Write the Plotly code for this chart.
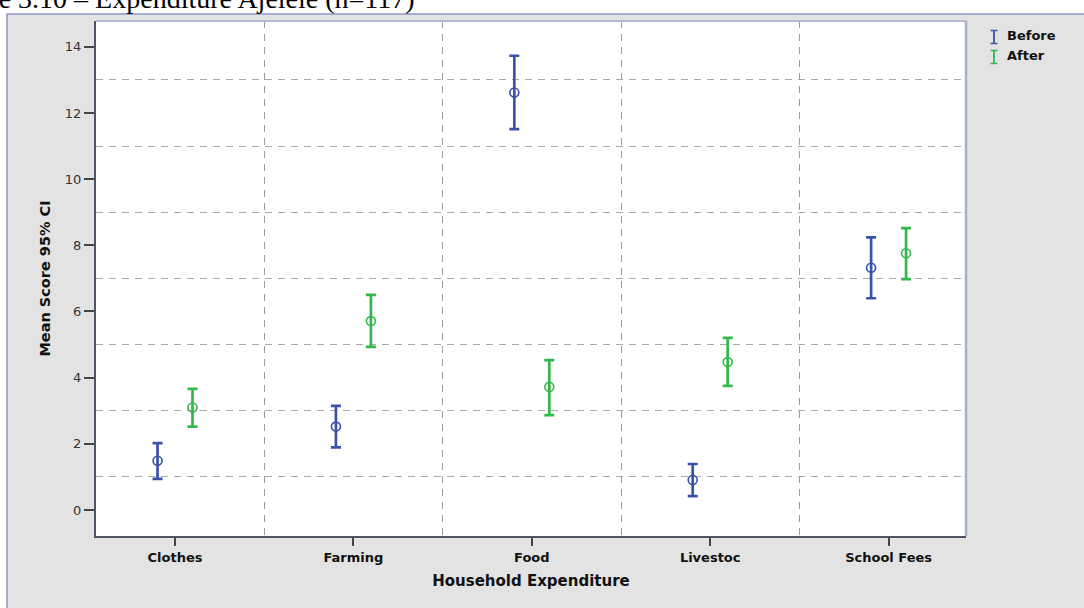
import plotly.graph_objects as go

# Household expenditure categories and mean scores with 95% CI bounds
categories = ["Clothes", "Farming", "Food", "Livestoc", "School Fees"]
before_mean = [1.49, 2.52, 12.62, 0.91, 7.32]
before_upper = [2.02, 3.15, 13.73, 1.39, 8.24]
before_lower = [0.94, 1.89, 11.51, 0.42, 6.40]
after_mean = [3.10, 5.71, 3.72, 4.47, 7.76]
after_upper = [3.66, 6.50, 4.53, 5.20, 8.52]
after_lower = [2.52, 4.93, 2.87, 3.75, 6.98]
y_tick_values = [0, 2, 4, 6, 8, 10, 12, 14]

BLUE = "#3a52a8"
GREEN = "#34b84c"
SANS = "DejaVu Sans"
W, H = 1084, 608
ML, MR, MT, MB = 96, 118, 21, 72
PW, PH = W - ML - MR, H - MT - MB


def px_x(px):
    return (px - ML) / PW


def px_y(py):
    return (H - MB - py) / PH


idx = list(range(len(categories)))
offset = 0.098


def series(name, means, upper, lower, color, shift):
    return go.Scatter(
        x=[i + shift for i in idx],
        y=means,
        mode="markers",
        name=name,
        marker=dict(symbol="circle-open", size=9, color=color, line=dict(width=1.6, color=color)),
        error_y=dict(
            type="data",
            symmetric=False,
            array=[u - m for u, m in zip(upper, means)],
            arrayminus=[m - l for m, l in zip(means, lower)],
            color=color,
            thickness=2.7,
            width=5,
        ),
        showlegend=False,
        hoverinfo="skip",
    )


fig = go.Figure()
fig.add_trace(series("Before", before_mean, before_upper, before_lower, BLUE, -offset))
fig.add_trace(series("After", after_mean, after_upper, after_lower, GREEN, offset))

shapes = [
    # grey chart panel
    dict(type="rect", xref="paper", yref="paper", layer="below",
         x0=px_x(7), x1=px_x(W + 20), y0=px_y(H + 20), y1=px_y(14),
         fillcolor="#e3e3e3", line=dict(color="#8f97cb", width=1.5)),
    # white plotting area
    dict(type="rect", xref="paper", yref="paper", layer="below",
         x0=0, x1=1, y0=0, y1=1, fillcolor="#ffffff", line=dict(width=0)),
    # top and right frame edges
    dict(type="line", xref="paper", yref="paper", x0=0, x1=1, y0=1, y1=1,
         line=dict(color="#b4bad6", width=2)),
    dict(type="line", xref="paper", yref="paper", x0=1, x1=1, y0=0, y1=1,
         line=dict(color="#a6aed4", width=2.5)),
]

# legend icons drawn as small error-bar glyphs
legend_items = [("Before", BLUE, 36), ("After", GREEN, 56)]
annotations = []
for label, color, cy in legend_items:
    xc = px_x(994)
    half = 6.5 / PH
    cap = 3.5 / PW
    y_c = px_y(cy + 1)
    shapes.append(dict(type="line", xref="paper", yref="paper", x0=xc, x1=xc,
                       y0=y_c - half, y1=y_c + half, line=dict(color=color, width=1.8)))
    for yy in (y_c - half, y_c + half):
        shapes.append(dict(type="line", xref="paper", yref="paper", x0=xc - cap, x1=xc + cap,
                           y0=yy, y1=yy, line=dict(color=color, width=1.5)))
    annotations.append(dict(xref="paper", yref="paper", x=px_x(1005), y=px_y(cy),
                            xanchor="left", yanchor="middle", showarrow=False,
                            text="<b>" + label + "</b>",
                            font=dict(family=SANS, size=13, color="#111")))

# figure caption above the chart panel
annotations.append(dict(xref="paper", yref="paper", x=px_x(-64), y=px_y(16),
                        xanchor="left", yanchor="bottom", showarrow=False,
                        text="Figure 3.10 \u2013 Expenditure Ajeleie (n=117)",
                        font=dict(family="Liberation Serif", size=28, color="#000")))

fig.update_layout(
    width=W, height=H,
    margin=dict(l=ML, r=MR, t=MT, b=MB, pad=0),
    paper_bgcolor="#ffffff",
    plot_bgcolor="rgba(0,0,0,0)",
    shapes=shapes,
    annotations=annotations,
    showlegend=False,
    xaxis=dict(
        range=[-0.443, 4.434],
        tickmode="array",
        tickvals=idx,
        ticktext=["<b>" + c + "</b>" for c in categories],
        tickfont=dict(family=SANS, size=13, color="#111"),
        ticks="outside", ticklen=8, tickwidth=1.8, tickcolor="#444",
        showgrid=False, zeroline=False,
        showline=True, linecolor="#4f5566", linewidth=2,
        minor=dict(tickmode="linear", tick0=0.5, dtick=1, showgrid=True,
                   gridcolor="#9c9c9c", gridwidth=1, griddash="7px,6px", ticklen=0),
        title=dict(text="<b>Household Expenditure</b>", standoff=12,
                   font=dict(family=SANS, size=15, color="#111")),
        fixedrange=True,
    ),
    yaxis=dict(
        range=[-0.786, 14.78],
        tickmode="array",
        tickvals=y_tick_values,
        tickfont=dict(family=SANS, size=13, color="#333"),
        ticks="outside", ticklen=10, tickwidth=1.8, tickcolor="#444",
        showgrid=False, zeroline=False,
        showline=True, linecolor="#4f5566", linewidth=2,
        minor=dict(tickmode="linear", tick0=1, dtick=2, showgrid=True,
                   gridcolor="#aaaaaa", gridwidth=1, griddash="7px,6px", ticklen=0),
        title=dict(text="<b>Mean Score 95% CI</b>", standoff=11,
                   font=dict(family=SANS, size=14.5, color="#111")),
        fixedrange=True,
    ),
)

fig.write_html("out.html")
